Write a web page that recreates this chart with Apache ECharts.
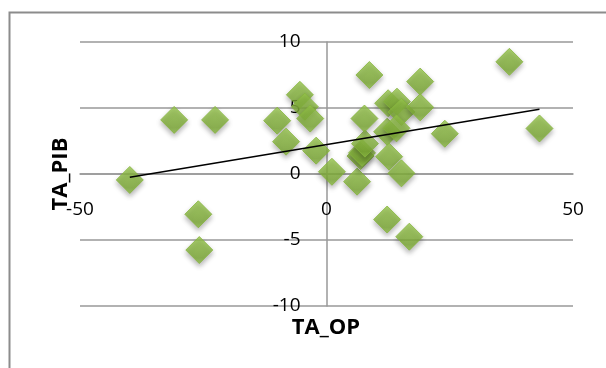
<!DOCTYPE html>
<html>
<head>
<meta charset="utf-8">
<script src="https://cdn.jsdelivr.net/npm/echarts@6/dist/echarts.min.js"></script>
<style>
  html, body { margin: 0; padding: 0; background: #fff; }
  #chart { width: 606px; height: 368px; }
</style>
</head>
<body>
<div id="chart"></div>
<script>
// TA_OP (x) against TA_PIB (y)
const taOP = [-39.9, -30.9, -22.6, -26.0, -25.8, -10.0, -8.2, -5.4, -4.4, -3.3, -2.1, 1.1,
              6.2, 6.9, 7.2, 7.8, 7.7, 8.7, 12.3, 12.7, 12.5, 14.3, 15.2, 14.2, 15.2, 12.3,
              16.8, 19.0, 19.0, 24.0, 37.1, 43.2];
const taPIB = [-0.45, 4.1, 4.1, -3.05, -5.76, 4.04, 2.45, 6.0, 5.1, 4.2, 1.77, 0.17,
               -0.58, 1.36, 1.6, 2.3, 4.2, 7.5, 3.2, 1.31, 5.36, 5.48, 4.7, 3.46, 0.05, -3.45,
               -4.75, 7.0, 5.05, 3.05, 8.5, 3.45];

// Linear trend line end points
const trendX = [-39.9, 43.2];
const trendY = [-0.25, 4.9];

const xTicks = [-50, 0, 50];
const yTicks = [-10, -5, 0, 5, 10];

const points = taOP.map((x, i) => [x, taPIB[i]]);
const trend = trendX.map((x, i) => [x, trendY[i]]);

const FONT = '"Open Sans", "DejaVu Sans", sans-serif';
const GRID = { left: 80, right: 33, top: 42, bottom: 62 };
const W = 606, H = 368;
const plotW = W - GRID.left - GRID.right;
const plotH = H - GRID.top - GRID.bottom;

// Axes cross at the origin: shift each axis inward to the zero position
const xZero = plotW * (0 - xTicks[0]) / (xTicks[xTicks.length - 1] - xTicks[0]);
const yZero = plotH * (0 - yTicks[0]) / (yTicks[yTicks.length - 1] - yTicks[0]);

const chart = echarts.init(document.getElementById('chart'), null, { renderer: 'canvas' });

chart.setOption({
  animation: false,
  backgroundColor: '#ffffff',
  grid: GRID,
  xAxis: {
    type: 'value',
    position: 'bottom',
    offset: -yZero,
    min: xTicks[0],
    max: xTicks[xTicks.length - 1],
    interval: 50,
    axisLine: { show: true, onZero: false, lineStyle: { color: '#999999', width: 1.5 } },
    axisTick: { show: false },
    splitLine: { show: false },
    axisLabel: { fontFamily: FONT, fontSize: 19, color: '#000', margin: 26 }
  },
  yAxis: {
    type: 'value',
    position: 'left',
    offset: -xZero,
    min: yTicks[0],
    max: yTicks[yTicks.length - 1],
    interval: 5,
    axisLine: { show: true, onZero: false, lineStyle: { color: '#999999', width: 1.5 } },
    axisTick: { show: false },
    splitLine: { show: true, lineStyle: { color: '#999999', width: 1.5 } },
    axisLabel: { fontFamily: FONT, fontSize: 19, color: '#000', margin: 26 }
  },
  graphic: [
    {
      type: 'rect',
      shape: { x: 9.5, y: 12.5, width: 700, height: 500 },
      style: { fill: 'none', stroke: '#8c8c8c', lineWidth: 2 },
      silent: true, z: -10
    },
    {
      type: 'text',
      x: 61, y: 174,
      rotation: Math.PI / 2,
      style: { text: 'TA_PIB', font: 'bold 22px ' + FONT, fill: '#000', align: 'center', verticalAlign: 'middle' },
      z: 100
    },
    {
      type: 'text',
      x: 326, y: 328,
      style: { text: 'TA_OP', font: 'bold 22px ' + FONT, fill: '#000', align: 'center', verticalAlign: 'middle' },
      z: 100
    }
  ],
  series: [
    {
      type: 'scatter',
      data: points,
      symbol: 'diamond',
      symbolSize: 27,
      itemStyle: {
        color: new echarts.graphic.LinearGradient(0, 0, 0, 1, [
          { offset: 0, color: '#98c84c' },
          { offset: 0.78, color: '#7dab35' },
          { offset: 1, color: '#92c248' }
        ]),
        borderColor: '#86b53c',
        borderWidth: 1,
        shadowBlur: 5,
        shadowColor: 'rgba(0,0,0,0.35)',
        shadowOffsetY: 3
      },
      z: 3
    },
    {
      type: 'line',
      data: trend,
      symbol: 'none',
      lineStyle: { color: '#000', width: 1.6 },
      z: 4
    }
  ]
});
</script>
</body>
</html>
